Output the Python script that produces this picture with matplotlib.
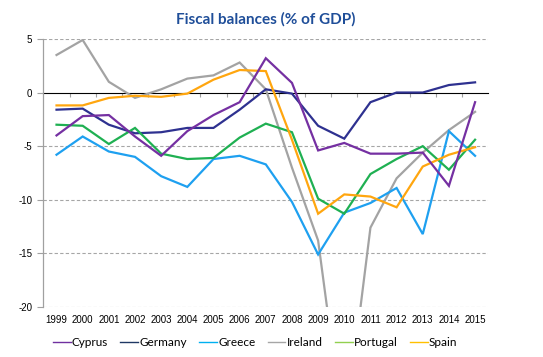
import matplotlib
matplotlib.use("Agg")
import matplotlib.pyplot as plt
from matplotlib.lines import Line2D

years = [str(y) for y in range(1999, 2016)]

cyprus = [-4.0, -2.2, -2.1, -4.1, -5.9, -3.6, -2.1, -0.9, 3.2, 0.9, -5.4, -4.7, -5.7, -5.7, -5.6, -8.7, -0.9]
germany = [-1.6, -1.5, -3.0, -3.8, -3.7, -3.3, -3.3, -1.6, 0.3, -0.1, -3.1, -4.3, -0.9, 0.0, 0.0, 0.7, 0.95]
greece = [-5.8, -4.1, -5.5, -6.0, -7.8, -8.8, -6.2, -5.9, -6.7, -10.2, -15.1, -11.2, -10.3, -8.9, -13.2, -3.6, -5.9]
ireland = [3.5, 4.9, 1.0, -0.5, 0.3, 1.3, 1.6, 2.8, 0.3, -7.0, -13.8, -32.1, -12.6, -8.0, -5.6, -3.5, -1.8]
portugal = [-3.0, -3.1, -4.8, -3.3, -5.7, -6.2, -6.1, -4.2, -2.9, -3.7, -9.9, -11.3, -7.6, -6.2, -5.0, -7.2, -4.4]
spain = [-1.2, -1.2, -0.5, -0.3, -0.4, -0.1, 1.2, 2.1, 2.0, -4.4, -11.3, -9.5, -9.7, -10.7, -6.9, -5.8, -5.1]

names = ["Cyprus", "Germany", "Greece", "Ireland", "Portugal", "Spain"]
series = [cyprus, germany, greece, ireland, portugal, spain]
line_colors = ["#7530a2", "#2e3190", "#1ea0f0", "#a3a3a3", "#1fb052", "#ffa60f"]
legend_colors = ["#7030a0", "#1f3864", "#00b0f0", "#a6a6a6", "#92d050", "#ffc000"]

fig = plt.figure(figsize=(5.43, 3.57), dpi=100)
ax = fig.add_axes([0.080, 0.140, 0.819, 0.751])

x = list(range(len(years)))
# draw Ireland early so it sits behind the others
order = [3, 1, 2, 4, 5, 0]
for i in order:
    ax.plot(x, series[i], color=line_colors[i], lw=1.6, solid_joinstyle="miter", zorder=3)

ax.set_xlim(-0.5, len(years) - 0.5)
ax.set_ylim(-20, 5)
ax.set_yticks([-20, -15, -10, -5, 0, 5])
ax.set_yticklabels(["-20", "-15", "-10", "-5", "0", "5"], fontsize=7, family="Liberation Sans")
ax.set_xticks(x)
ax.set_xticklabels(years, fontsize=7, family="Liberation Sans")
ax.tick_params(axis="x", length=0, pad=6)
ax.tick_params(axis="y", length=4, color="#a0a0a0", pad=4)

for y in [-20, -15, -10, -5, 5]:
    ax.axhline(y, color="#a6a6a6", lw=0.8, ls=(0, (3, 2)), zorder=1)

for s in ["top", "right", "bottom"]:
    ax.spines[s].set_visible(False)
ax.spines["left"].set_color("#a0a0a0")
ax.spines["left"].set_linewidth(0.9)

# category axis crossing at zero, tick marks between categories
sec = ax.secondary_xaxis(20 / 25)
sec.spines["bottom"].set_color("#a0a0a0")
sec.spines["bottom"].set_linewidth(0.9)
bounds = [i + 0.5 for i in range(len(years) - 1)]
sec.set_xticks(bounds, labels=[""] * len(bounds))
sec.tick_params(axis="x", direction="in", length=3, color="#a0a0a0",
                labelbottom=False, labeltop=False)

fig.text(0.489, 0.945, "Fiscal balances (% of GDP)", ha="center", va="center",
         fontsize=11, fontweight="bold", color="#1f4e99", family="Lato")

handles = [Line2D([], [], color=c, lw=1.0) for c in legend_colors]
fig.legend(handles, names, loc="center", bbox_to_anchor=(0.47, 0.04), ncol=6,
           frameon=False, handlelength=1.5, handletextpad=0.1, columnspacing=1.05,
           prop={"family": "Lato", "size": 8.5})

fig.savefig("out.png", dpi=100)
